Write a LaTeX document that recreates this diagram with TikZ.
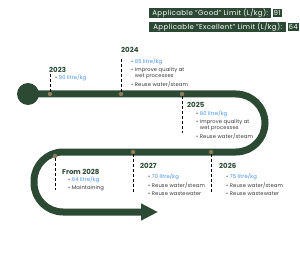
\documentclass[tikz,border=0pt]{standalone}
\usepackage{fontspec}
\setmainfont{Poppins}
\usetikzlibrary{positioning, arrows.meta}
\definecolor{trackGreen}{HTML}{2C4A33}
\definecolor{dotKhaki}{HTML}{8B7D5B}
\definecolor{itemBlue}{HTML}{3D8EF0}
\definecolor{itemGrey}{HTML}{333333}
\newcommand{\itm}{\textbullet\ }
\newcommand{\hang}{\phantom{\textbullet\ }}
\tikzset{
  yearlabel/.style={anchor=west, inner sep=0pt, text=trackGreen, font=\bfseries\fontsize{7}{8}\selectfont},
  itemlist/.style={anchor=north west, inner sep=0pt, align=left, text=itemGrey,
    font=\fontsize{5.2}{6}\selectfont\addfontfeatures{LetterSpace=2.5}},
  limitbox/.style={anchor=west, fill=trackGreen, text=white, inner xsep=1pt, inner ysep=0.5pt,
    minimum height=8pt, font=\fontsize{7}{7}\selectfont\addfontfeatures{LetterSpace=5}},
  milestone/.style={circle, fill=dotKhaki, inner sep=0pt, minimum size=4.5pt},
  dashline/.style={densely dashed, line width=1pt},
}

\begin{document}
\begin{tikzpicture}[x=1pt, y=-1pt]
  \useasboundingbox (0,0) rectangle (300,262);

  % limites en haut a droite
  \node[limitbox, minimum width=122pt] (good) at (149,13) {Applicable "Good" Limit (L/kg):};
  \node[limitbox, right=1pt of good] (goodval) {91};
  \node[limitbox, minimum width=137pt] (excellent) at (149,27) {Applicable "Excellent" Limit (L/kg):};
  \node[limitbox, right=1pt of excellent] (excval) {64};

  % la piste
  \node[circle, fill=trackGreen, minimum size=22pt, inner sep=0pt] (start) at (28,94) {};
  \draw[trackGreen, line width=7pt, rounded corners=29pt, -{Triangle[length=17pt, width=16pt]}]
    (start.center) -- (265,94) -- (265,152) -- (34,152) -- (34,212) -- (158,212);

  % jalons : point + tirets
  \foreach \n/\x/\y/\e in {23/50/94/73, 24/121/94/58, 25/182/94/133,
                           26/211/152/193, 27/133/152/193, 28/55/156/190} {
    \node[milestone] (d\n) at (\x,\y) {};
    \coordinate (e\n) at (\x,\e);
    \draw[dashline] (d\n) -- (e\n);
  }

  % textes
  \node[yearlabel] (y23) at (49,70) {2023};
  \node[itemlist] (l23) at (55,74.5) {\itm\textcolor{itemBlue}{90 litre/kg}};

  \node[yearlabel] (y24) at (121,50) {2024};
  \node[itemlist] (l24) at (131,58.5) {\itm\textcolor{itemBlue}{85 litre/kg}\\[2pt]
    \itm Improve quality at\\ \hang wet processes\\[2pt] \itm Reuse water/steam};

  \node[yearlabel] (y25) at (187,105) {2025};
  \node[itemlist] (l25) at (196,110.5) {\itm\textcolor{itemBlue}{80 litre/kg}\\[2pt]
    \itm Improve quality at\\ \hang wet processes\\[2pt] \itm Reuse water/steam};

  \node[yearlabel] (y26) at (219,166) {2026};
  \node[itemlist] (l26) at (226,173.5) {\itm\textcolor{itemBlue}{75 litre/kg}\\[2pt]
    \itm Reuse water/steam\\[2pt] \itm Reuse wastewater};

  \node[yearlabel] (y27) at (140,166) {2027};
  \node[itemlist] (l27) at (148,173.5) {\itm\textcolor{itemBlue}{70 litre/kg}\\[2pt]
    \itm Reuse water/steam\\[2pt] \itm Reuse wastewater};

  \node[yearlabel] (y28) at (62,172) {From 2028};
  \node[itemlist] (l28) at (68,176.5) {\itm\textcolor{itemBlue}{64 litre/kg}\\[2pt]
    \itm Maintaining};
\end{tikzpicture}
\end{document}
